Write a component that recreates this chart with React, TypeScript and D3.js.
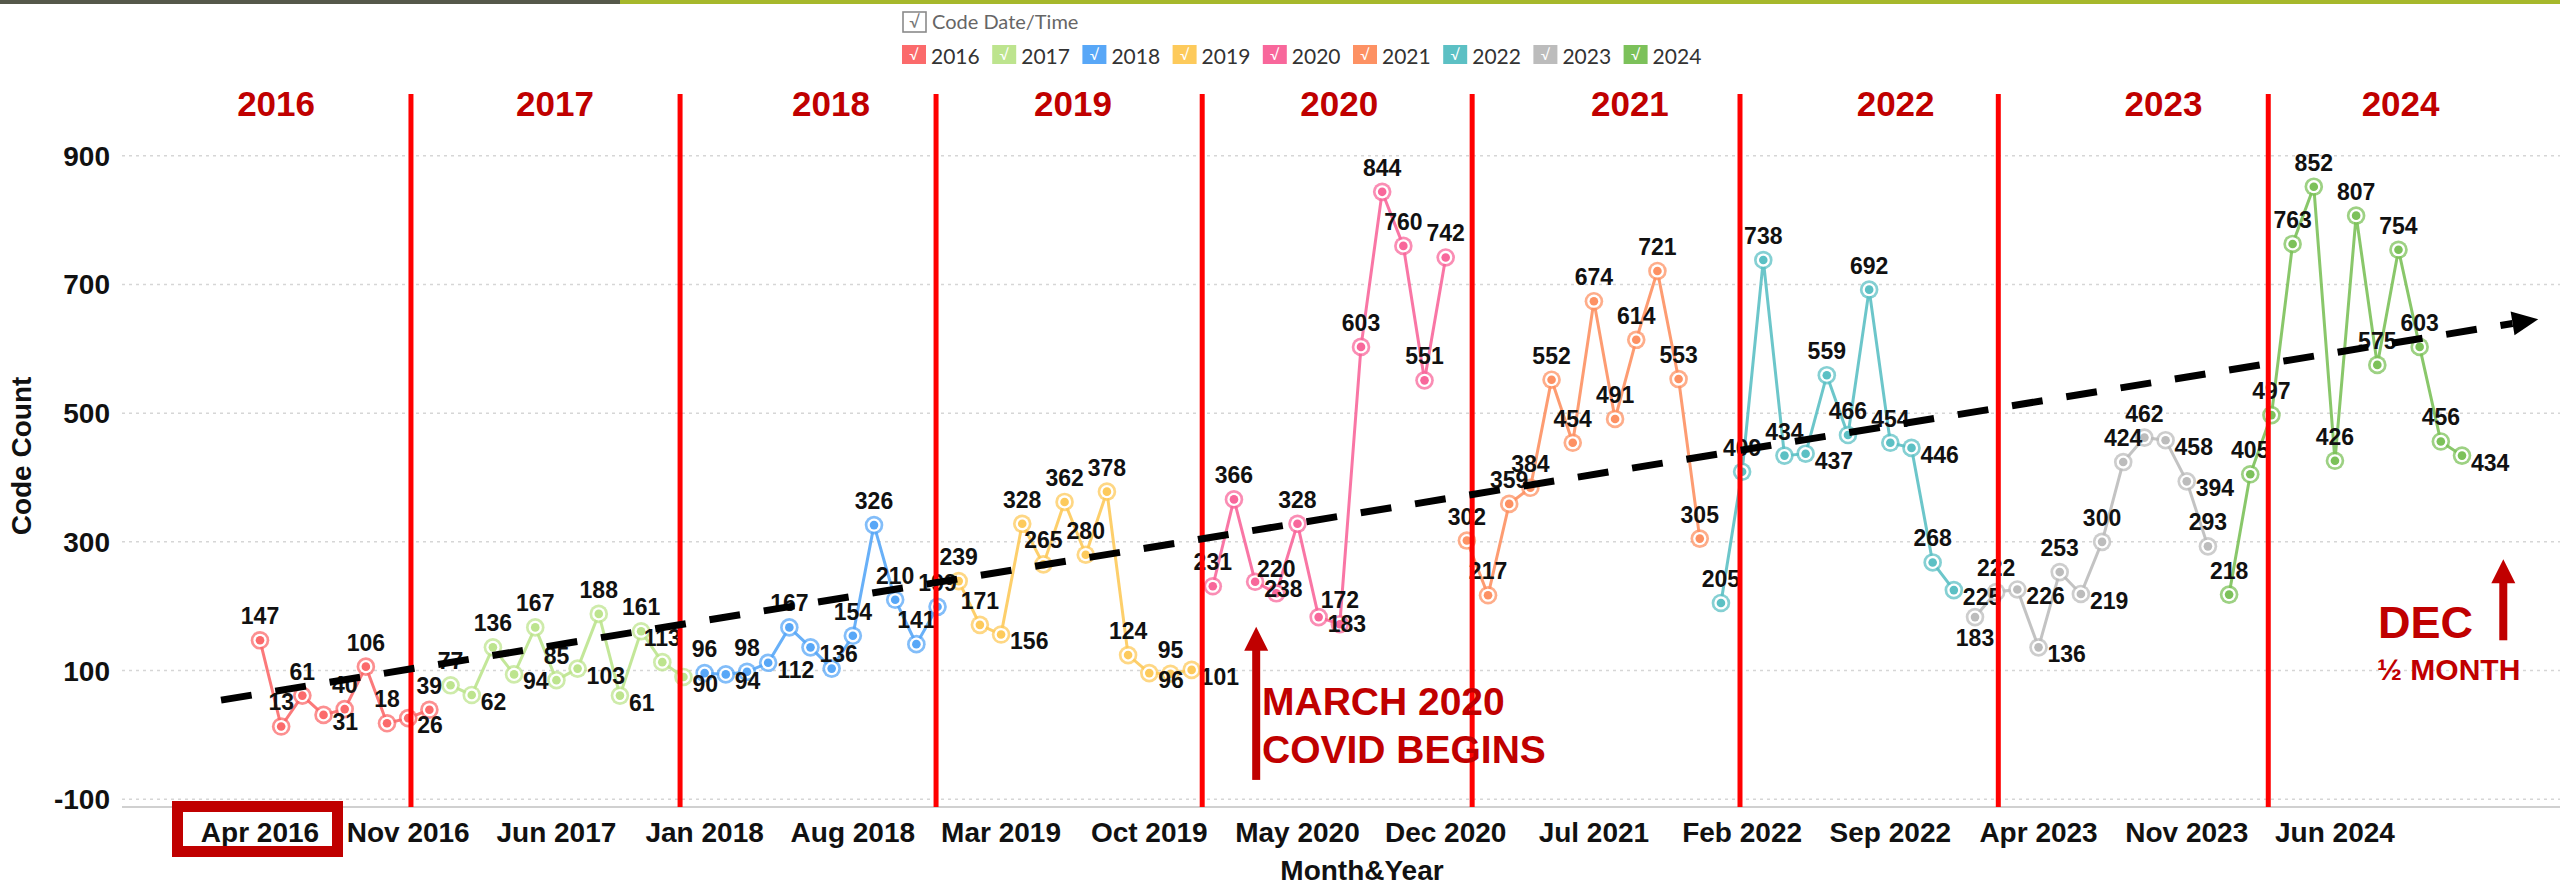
import React from "react";
import * as d3 from "d3";

// monthly code counts, Apr 2016 .. Dec 2024
const years = [2016, 2017, 2018, 2019, 2020, 2021, 2022, 2023, 2024];
const firstMonth = 4; // data begins in April 2016
const counts2016 = [147, 13, 61, 31, 40, 106, 18, 26, 39];
const counts2017 = [77, 62, 136, 94, 167, 85, 103, 188, 61, 161, 113, 90];
const counts2018 = [96, 94, 98, 112, 167, 136, 103, 154, 326, 210, 141, 199];
const counts2019 = [239, 171, 156, 328, 265, 362, 280, 378, 124, 96, 95, 101];
const counts2020 = [231, 366, 238, 220, 328, 183, 172, 603, 844, 760, 551, 742];
const counts2021 = [302, 217, 359, 384, 552, 454, 674, 491, 614, 721, 553, 305];
const counts2022 = [205, 409, 738, 434, 437, 559, 466, 692, 454, 446, 268, 225];
const counts2023 = [183, 222, 226, 136, 253, 219, 300, 424, 462, 458, 394, 293];
const counts2024 = [218, 405, 497, 763, 852, 426, 807, 575, 754, 603, 456, 434];
const yearCounts = [counts2016, counts2017, counts2018, counts2019, counts2020, counts2021, counts2022, counts2023, counts2024];

const yearColors = ["#fb6a6b", "#bde48e", "#58a7f7", "#fdca5b", "#f8679b", "#fd9163", "#5cc0c4", "#bcbcbc", "#7cc15a"];

const monthNames = ["Jan", "Feb", "Mar", "Apr", "May", "Jun", "Jul", "Aug", "Sep", "Oct", "Nov", "Dec"];
const tickLabels = ["Apr 2016", "Nov 2016", "Jun 2017", "Jan 2018", "Aug 2018", "Mar 2019", "Oct 2019", "May 2020",
  "Dec 2020", "Jul 2021", "Feb 2022", "Sep 2022", "Apr 2023", "Nov 2023", "Jun 2024"];
const yTicks = [-100, 100, 300, 500, 700, 900];

// label placement as in the original (default is above the mark)
const labelsRight = ["2016-07", "2016-11", "2017-02", "2017-04", "2017-07", "2017-09", "2017-12", "2018-02", "2018-04",
  "2018-06", "2019-03", "2019-10", "2019-12", "2020-03", "2020-06", "2022-05", "2022-10", "2022-12", "2023-03",
  "2023-04", "2023-06", "2023-10", "2023-11", "2024-12"];
const labelsBelow = ["2023-01"];
const labelsHidden = ["2018-07"];

// hand drawn annotations, in month steps from Apr 2016
const yearDividers = [7.13, 19.84, 31.93, 44.5, 57.25, 69.9, 82.1, 94.85];
const yearTitleAt = [0.76, 13.93, 26.97, 38.4, 50.97, 64.7, 77.25, 89.9, 101.1];
const trendFrom = { m: -1.84, v: 54 };
const trendTo = { m: 107.6, v: 646 };
const covidArrow = { m: 47.05, from: -70, to: 168 };
const decArrow = { m: 105.95, from: 147, to: 273 };

type Point = { key: string; label: string; idx: number; value: number; year: number };

const series: Point[][] = [];
let counter = 0;
years.forEach((y, yi) => {
  const start = yi === 0 ? firstMonth : 1;
  series.push(yearCounts[yi].map((v, i) => {
    const m = start + i;
    return { key: `${y}-${String(m).padStart(2, "0")}`, label: `${monthNames[m - 1]} ${y}`, idx: counter++, value: v, year: y };
  }));
});
const allPoints = series.flat();

const W = 2560;
const H = 887;
const FONT = "'Liberation Sans', Arial, sans-serif";
const DARKRED = "#c00000";

const x = d3.scaleLinear().domain([0, allPoints.length - 1]).range([260, 2462]);
const y = d3.scaleLinear().domain([-100, 900]).range([799.2, 155.8]);

const line = d3.line<Point>().x(d => x(d.idx)).y(d => y(d.value));

function Arrow({ xp, y0, y1 }: { xp: number; y0: number; y1: number }) {
  const head = 24;
  return (
    <g fill={DARKRED}>
      <rect x={xp - 4} y={y1 + head - 2} width={8} height={y0 - y1 - head + 2} />
      <polygon points={`${xp},${y1} ${xp - 12},${y1 + head} ${xp + 12},${y1 + head}`} />
    </g>
  );
}

export default function App() {
  const x0 = x(trendFrom.m), y0 = y(trendFrom.v);
  const x1 = x(trendTo.m), y1 = y(trendTo.v);
  const ang = Math.atan2(y1 - y0, x1 - x0);
  const headLen = 26, headHalf = 12;
  const bx = x1 - headLen * Math.cos(ang), by = y1 - headLen * Math.sin(ang);
  const nx = -Math.sin(ang), ny = Math.cos(ang);

  const legendX = 902;
  const legendStep = 90.2;

  return (
    <svg width={W} height={H} style={{ position: "absolute", left: 0, top: 0, background: "#fff" }} fontFamily={FONT}>
      {/* header strip */}
      <rect x={0} y={0} width={620} height={4} fill="#55584a" />
      <rect x={620} y={0} width={W - 620} height={4} fill="#a6b82b" />

      {/* legend */}
      <rect x={903} y={12} width={23} height={20} fill="#fff" stroke="#8a8a8a" strokeWidth={1.6} />
      <text x={914.5} y={28} textAnchor="middle" fontSize={17} fill="#777" fontFamily="Lato, sans-serif">√</text>
      <text x={932} y={28.5} fontSize={20} fill="#666" fontFamily="Lato, sans-serif">Code Date/Time</text>
      {years.map((yr, i) => (
        <g key={yr} transform={`translate(${legendX + i * legendStep},45)`}>
          <rect width={24} height={19} fill={yearColors[i]} />
          <text x={12} y={15} textAnchor="middle" fontSize={15} fill="#fff" fontFamily="Lato, sans-serif">√</text>
          <text x={29} y={19} fontSize={21} fill="#333" fontFamily="Lato, sans-serif">{yr}</text>
        </g>
      ))}

      {/* grid */}
      {yTicks.map(t => (
        <g key={t}>
          <line x1={122} x2={W} y1={y(t)} y2={y(t)} stroke="#d6d6d6" strokeWidth={1.5} strokeDasharray="3 4" />
          <text x={110} y={y(t) + 10} textAnchor="end" fontSize={28} fontWeight="bold" fill="#111">{t}</text>
        </g>
      ))}
      <line x1={122} x2={W} y1={807} y2={807} stroke="#d0d0d0" strokeWidth={2} />

      {/* x ticks */}
      {tickLabels.map(lb => {
        const p = allPoints.find(d => d.label === lb)!;
        return (
          <text key={lb} x={x(p.idx)} y={842} textAnchor="middle" fontSize={28} fontWeight="bold" fill="#111">{lb}</text>
        );
      })}
      <rect x={177.5} y={806.5} width={160} height={45} fill="none" stroke={DARKRED} strokeWidth={11} />

      <text x={1362} y={880} textAnchor="middle" fontSize={28} fontWeight="bold" fill="#111">Month&amp;Year</text>
      <text transform="translate(31,456) rotate(-90)" textAnchor="middle" fontSize={28} fontWeight="bold" fill="#111">Code Count</text>

      {/* series */}
      {series.map((s, i) => (
        <path key={years[i]} d={line(s) ?? ""} fill="none" stroke={yearColors[i]} strokeWidth={3} strokeOpacity={0.9} />
      ))}
      {allPoints.map(d => {
        const c = yearColors[years.indexOf(d.year)];
        return (
          <g key={d.key} transform={`translate(${x(d.idx)},${y(d.value)})`}>
            <circle r={9.3} fill={c} fillOpacity={0.75} />
            <circle r={6.6} fill="#fff" />
            <circle r={4.3} fill={c} />
          </g>
        );
      })}
      {allPoints.filter(d => !labelsHidden.includes(d.key)).map(d => {
        const px = x(d.idx), py = y(d.value);
        let tx = px, ty = py - 16, anchor = "middle";
        if (labelsRight.includes(d.key)) { tx = px + 9; ty = py + 15; anchor = "start"; }
        if (labelsBelow.includes(d.key)) { ty = py + 29; }
        return (
          <text key={d.key} x={tx} y={ty} textAnchor={anchor} fontSize={23} fontWeight="bold" fill="#111">{d.value}</text>
        );
      })}

      {/* year dividers and titles */}
      {yearDividers.map((m, i) => (
        <line key={i} x1={x(m)} x2={x(m)} y1={94} y2={807} stroke="#ff0000" strokeWidth={5} />
      ))}
      {yearTitleAt.map((m, i) => (
        <text key={years[i]} x={x(m)} y={116} textAnchor="middle" fontSize={35} fontWeight="bold" fill={DARKRED}>{years[i]}</text>
      ))}

      {/* trend */}
      <line x1={x0} y1={y0} x2={bx} y2={by} stroke="#000" strokeWidth={7} strokeDasharray="31 24" />
      <polygon points={`${x1},${y1} ${bx + nx * headHalf},${by + ny * headHalf} ${bx - nx * headHalf},${by - ny * headHalf}`} fill="#000" />

      {/* notes */}
      <Arrow xp={x(covidArrow.m)} y0={y(covidArrow.from)} y1={y(covidArrow.to)} />
      <text x={1262} y={715} fontSize={39} fontWeight="bold" fill={DARKRED}>MARCH 2020</text>
      <text x={1262} y={763} fontSize={39} fontWeight="bold" fill={DARKRED}>COVID BEGINS</text>

      <Arrow xp={x(decArrow.m)} y0={y(decArrow.from)} y1={y(decArrow.to)} />
      <text x={2378} y={638} fontSize={45} fontWeight="bold" fill={DARKRED}>DEC</text>
      <text x={2377} y={680} fontSize={30} fontWeight="bold" fill={DARKRED}>½ MONTH</text>
    </svg>
  );
}
